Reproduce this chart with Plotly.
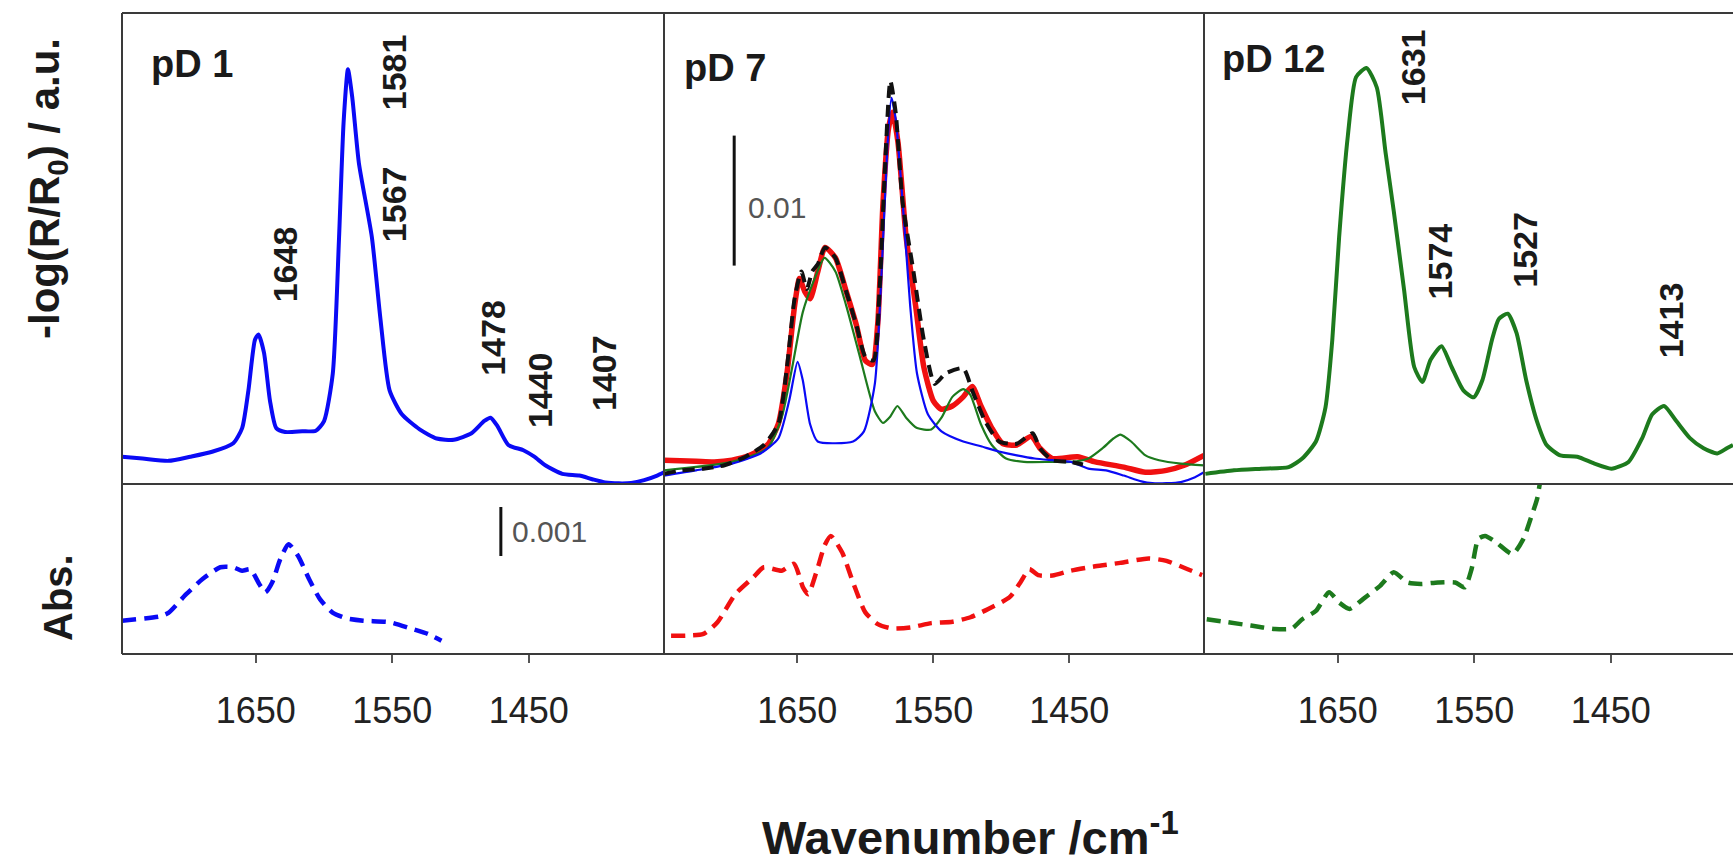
import plotly.graph_objects as go

W, H = 1733, 868

# ---------------- data (wavenumber in cm-1, signal in mAbs) ----------------
# pD 1, top: -log(R/R0)
p1_wn = [1748, 1733, 1714, 1698, 1682, 1666.5, 1660, 1655.4, 1650.6, 1648, 1644, 1639.6, 1635,
         1628.5, 1616, 1606, 1600, 1593.6, 1589, 1585.7, 1582.5, 1579.3, 1574.5, 1565, 1558.7,
         1552, 1543, 1530, 1517.5, 1505, 1492, 1482.6, 1478, 1473, 1465, 1454, 1446, 1438,
         1425.5, 1413, 1403, 1394, 1384, 1375, 1365.5, 1356, 1351]
p1_y = [2.1, 1.96, 1.78, 2.1, 2.48, 3.14, 4.3, 7.2, 11.1, 11.5, 10.1, 6.4, 4.3,
        4.0, 4.05, 4.1, 4.84, 8.5, 19.0, 27.8, 31.9, 29.7, 24.7, 19.0, 12.7,
        7.2, 5.36, 4.2, 3.5, 3.4, 3.9, 4.85, 5.1, 4.45, 3.0, 2.6, 2.1, 1.44,
        0.78, 0.65, 0.35, 0.12, 0.05, 0.08, 0.3, 0.65, 0.9]

# pD 1, bottom: Abs. (dashed)
p1b_wn = [1748, 1720, 1714, 1701, 1689, 1676, 1666.5, 1660, 1654, 1647.5, 1643, 1638, 1632,
          1626, 1619, 1611, 1603, 1594, 1584, 1571.4, 1552, 1536.5, 1524, 1514]
p1b_y = [0.68, 0.77, 0.84, 1.22, 1.53, 1.77, 1.77, 1.70, 1.73, 1.43, 1.26, 1.46, 1.94,
         2.24, 2.0, 1.53, 1.12, 0.85, 0.73, 0.68, 0.65, 0.52, 0.41, 0.27]

# pD 7, top: four spectra
p7_red_wn = [1748, 1724.4, 1711, 1698, 1685, 1672, 1664, 1657.6, 1652, 1648.4, 1644.5, 1640.6,
             1635, 1629.6, 1622, 1614, 1606.5, 1600, 1594.7, 1590.8, 1587, 1583, 1580, 1576,
             1570, 1563, 1557, 1550, 1544, 1536, 1528, 1521.4, 1515, 1507, 1499, 1488.6, 1478,
             1471.6, 1462.5, 1444, 1431, 1410, 1394, 1378.6, 1365.5, 1351]
p7_red_y = [1.83, 1.75, 1.7, 1.83, 2.2, 3.0, 4.6, 8.5, 13.7, 15.8, 14.8, 14.25,
            16.3, 18.2, 17.4, 14.8, 12.2, 9.5, 9.2, 12.4, 21.6, 27.3, 28.6, 26.3,
            19.0, 13.7, 9.0, 6.4, 5.75, 6.0, 6.7, 7.5, 6.0, 4.3, 3.1, 3.0, 3.66,
            2.75, 1.96, 2.1, 1.7, 1.3, 0.9, 1.05, 1.44, 2.2]

p7_black_wn = [1748, 1735, 1719, 1703.5, 1688, 1674.6, 1664, 1657.6, 1652, 1647, 1643, 1639,
               1635, 1629.6, 1622, 1614, 1606.5, 1600, 1594, 1589.5, 1585.6, 1581.6, 1577.7,
               1572.5, 1564.6, 1557, 1549, 1541, 1528, 1521.4, 1512, 1501.7, 1488.6, 1477,
               1471.6, 1462.5, 1449, 1440]
p7_black_y = [0.78, 1.05, 1.18, 1.44, 2.1, 3.0, 4.6, 9.0, 14.25, 16.35, 15.0, 16.35,
              16.9, 18.2, 17.4, 14.8, 12.2, 9.8, 9.5, 15.0, 24.2, 31.0, 28.6,
              21.6, 16.35, 11.1, 7.7, 8.5, 8.9, 7.2, 4.85, 3.27, 3.1, 3.9,
              2.75, 1.83, 1.7, 1.5]

p7_blue_wn = [1748, 1724.4, 1698, 1677, 1664, 1656, 1649.8, 1646, 1640.6, 1635, 1609, 1601,
              1593, 1588, 1584, 1580.8, 1577.7, 1572.5, 1567, 1562, 1554, 1544, 1528, 1515,
              1501.7, 1488.6, 1475.5, 1462.5, 1449, 1436, 1423, 1410, 1397, 1389, 1378.6,
              1368, 1357.6, 1351]
p7_blue_y = [0.65, 1.05, 1.57, 2.35, 3.5, 6.4, 9.4, 8.0, 4.6, 3.27, 3.27, 4.05,
             7.7, 16.35, 25.5, 29.7, 28.1, 21.6, 13.7, 8.5, 5.36, 4.05, 3.27, 2.9,
             2.5, 2.2, 1.96, 1.83, 1.7, 1.18, 1.05, 0.65, 0.2, 0.06, 0.06,
             0.15, 0.52, 0.9]

p7_green_wn = [1748, 1698, 1672, 1661.5, 1653.7, 1646, 1638, 1630, 1622, 1614, 1604, 1593,
               1587, 1581.6, 1576.4, 1570, 1562, 1551.5, 1544, 1536, 1528, 1523, 1515, 1507,
               1496.5, 1483.4, 1462.5, 1449, 1436, 1425.6, 1417.6, 1412.5, 1404.6, 1394,
               1384, 1368, 1351]
p7_green_y = [1.05, 1.7, 2.75, 5.1, 9.0, 13.2, 15.6, 17.4, 16.35, 13.7, 9.8, 5.6,
              4.7, 5.2, 6.0, 5.1, 4.3, 4.2, 5.1, 6.7, 7.3, 6.9, 4.6, 3.0,
              1.96, 1.7, 1.7, 1.7, 1.96, 2.75, 3.5, 3.8, 3.27, 2.2,
              1.83, 1.57, 1.44]

# pD 7, bottom: Abs. (dashed)
p7b_wn = [1742.8, 1719, 1708.7, 1695.6, 1682.5, 1674.6, 1661.5, 1652.4, 1645.8, 1642, 1635.3,
          1630, 1625.4, 1617, 1609, 1600, 1590.8, 1580.3, 1567, 1551.5, 1535.8, 1522.7,
          1509.6, 1493.9, 1486, 1479.4, 1472.9, 1462.4, 1449, 1431, 1412.6, 1391.7, 1378.6,
          1363, 1352.4]
p7b_y = [0.37, 0.41, 0.65, 1.22, 1.56, 1.77, 1.70, 1.84, 1.36, 1.22, 1.73,
         2.21, 2.41, 2.07, 1.46, 0.85, 0.61, 0.52, 0.54, 0.63, 0.66, 0.75,
         0.92, 1.16, 1.46, 1.73, 1.61, 1.6, 1.70, 1.79, 1.86, 1.95, 1.90,
         1.73, 1.61]

# pD 12, top
p12_wn = [1747, 1726, 1706, 1686, 1676, 1666, 1659, 1654, 1649, 1642.6, 1636.6, 1629, 1621.4,
          1615, 1609, 1601.5, 1594, 1588, 1582, 1574, 1566.6, 1558, 1550.4, 1544, 1537, 1532,
          1525.5, 1519, 1512, 1504, 1497, 1487, 1474.5, 1462, 1449.5, 1437, 1427, 1419.6,
          1411, 1402, 1392, 1382, 1372, 1365, 1360.5]
p12_y = [0.78, 1.05, 1.18, 1.3, 1.96, 3.27, 5.9, 11.1, 19.0, 26.8, 31.3, 32.0, 30.5,
         25.5, 21.0, 15.0, 9.0, 7.85, 9.55, 10.6, 9.0, 7.2, 6.67, 8.0, 11.1, 12.7,
         13.1, 11.6, 8.0, 4.8, 3.0, 2.2, 2.1, 1.57, 1.18, 1.7, 3.53, 5.36,
         6.0, 4.84, 3.53, 2.75, 2.35, 2.75, 3.0]

# pD 12, bottom: Abs. (dashed), runs off the top of the panel
p12b_wn = [1746, 1731, 1713.6, 1696, 1683.7, 1676, 1666, 1656.4, 1649, 1641.3, 1631.5, 1619,
           1609, 1599, 1589, 1576.6, 1564, 1557, 1552, 1547, 1542, 1534, 1522, 1514, 1508,
           1504, 1502, 1498]
p12b_y = [0.71, 0.65, 0.58, 0.51, 0.52, 0.71, 0.88, 1.26, 1.05, 0.92, 1.12, 1.39,
          1.67, 1.46, 1.43, 1.46, 1.46, 1.36, 1.73, 2.35, 2.41, 2.28, 2.04, 2.35, 2.82,
          3.16, 3.47, 4.0]

# scale bars: (wavenumber, y from, y to) and labels
bar_top_wn, bar_top_y = [1696.4, 1696.4], [16.8, 26.8]       # 0.01
bar_bot_wn, bar_bot_y = [1470.5, 1470.5], [2.0, 3.0]         # 0.001

# peak labels
p1_peaks = ["1648", "1581", "1567", "1478", "1440", "1407"]
p1_peak_x = [1628.6, 1549, 1549, 1476.2, 1441.3, 1395.3]
p1_peak_y = [16.9, 31.65, 21.5, 11.25, 7.2, 8.5]
p12_peaks = ["1631", "1574", "1527", "1413"]
p12_peak_x = [1595.3, 1575.3, 1513, 1405.8]
p12_peak_y = [32.1, 17.1, 18.0, 12.6]

tick_vals = [1650, 1550, 1450]
tick_text = ["1650", "1550", "1450"]

# ---------------- layout geometry (pixels) ----------------
X_L, X_D1, X_D2, X_R = 122, 664, 1204, 1733
Y_T, Y_M, Y_B = 13, 484, 654
TOP_RANGE = [0, (Y_M - Y_T) / 13.0]
BOT_RANGE = [0, (Y_B - Y_M) / 49.0]
XR = [1748, 1351]
XR3 = [1748, 1748 - (X_R - X_D2) / 1.365]

px = lambda x: x / W
py = lambda y: 1 - y / H

FONT = "Liberation Sans, Arial, sans-serif"
BLUE = "#0a0af5"
RED = "#f01010"
GREEN = "#1d7a1d"
BLACK = "#111111"

fig = go.Figure()

def add(x, y, xa, ya, color, width, dash="solid"):
    fig.add_trace(go.Scatter(x=x, y=y, xaxis=xa, yaxis=ya, mode="lines",
                             line=dict(color=color, width=width, dash=dash, shape="spline", smoothing=0.6),
                             hoverinfo="skip", showlegend=False))

add(p1_wn, p1_y, "x", "y", BLUE, 4)
add(p1b_wn, p1b_y, "x2", "y2", BLUE, 4.5, "14px,8px")
add(p7_red_wn, p7_red_y, "x3", "y3", RED, 5.5)
add(p7_green_wn, p7_green_y, "x3", "y3", GREEN, 2.2)
add(p7_blue_wn, p7_blue_y, "x3", "y3", BLUE, 2.2)
add(p7_black_wn, p7_black_y, "x3", "y3", BLACK, 4, "12px,7px")
add(p7b_wn, p7b_y, "x4", "y4", RED, 4.5, "14px,8px")
add(p12_wn, p12_y, "x5", "y5", GREEN, 4)
add(p12b_wn, p12b_y, "x6", "y6", GREEN, 4.5, "14px,8px")

# scale bars
fig.add_trace(go.Scatter(x=bar_top_wn, y=bar_top_y, xaxis="x3", yaxis="y3", mode="lines",
                         line=dict(color="#111", width=3), hoverinfo="skip", showlegend=False))
fig.add_trace(go.Scatter(x=bar_bot_wn, y=bar_bot_y, xaxis="x2", yaxis="y2", mode="lines",
                         line=dict(color="#111", width=3), hoverinfo="skip", showlegend=False))

def xax(d0, d1, rng, anchor, ticks):
    a = dict(domain=[px(d0), px(d1)], range=rng, anchor=anchor, showgrid=False, zeroline=False,
             showline=False, fixedrange=True)
    if ticks:
        a.update(tickmode="array", tickvals=tick_vals, ticktext=tick_text, ticks="outside",
                 ticklen=8, tickwidth=2, tickcolor="#555",
                 tickfont=dict(family=FONT, size=36, color="#222"), ticklabelstandoff=17)
    else:
        a.update(showticklabels=False, ticks="")
    return a

def yax(top, rng, anchor):
    d = [py(Y_M), py(Y_T)] if top else [py(Y_B), py(Y_M)]
    return dict(domain=d, range=rng, anchor=anchor, showgrid=False, zeroline=False,
                showline=False, showticklabels=False, ticks="", fixedrange=True)

layout = dict(
    width=W, height=H, margin=dict(l=0, r=0, t=0, b=0),
    paper_bgcolor="white", plot_bgcolor="white",
    xaxis=xax(X_L, X_D1, XR, "y", False), yaxis=yax(True, TOP_RANGE, "x"),
    xaxis2=xax(X_L, X_D1, XR, "y2", True), yaxis2=yax(False, BOT_RANGE, "x2"),
    xaxis3=xax(X_D1, X_D2, XR, "y3", False), yaxis3=yax(True, TOP_RANGE, "x3"),
    xaxis4=xax(X_D1, X_D2, XR, "y4", True), yaxis4=yax(False, BOT_RANGE, "x4"),
    xaxis5=xax(X_D2, X_R, XR3, "y5", False), yaxis5=yax(True, TOP_RANGE, "x5"),
    xaxis6=xax(X_D2, X_R, XR3, "y6", True), yaxis6=yax(False, BOT_RANGE, "x6"),
)
fig.update_layout(**layout)

# frame lines
LC = "#3a3a3a"
shapes = []
for yy in (Y_T, Y_M, Y_B):
    shapes.append(dict(type="line", xref="paper", yref="paper", x0=px(X_L), x1=px(X_R) + 0.01,
                       y0=py(yy), y1=py(yy), line=dict(color=LC, width=2)))
for xx in (X_L, X_D1, X_D2):
    shapes.append(dict(type="line", xref="paper", yref="paper", x0=px(xx), x1=px(xx),
                       y0=py(Y_T), y1=py(Y_B), line=dict(color=LC, width=2)))
fig.update_layout(shapes=shapes)

ann = []
def label(text, x, y, xref, yref, size, bold=True, angle=0, xanchor="center", yanchor="middle", color="#1a1a1a"):
    ann.append(dict(text=f"<b>{text}</b>" if bold else text, x=x, y=y, xref=xref, yref=yref,
                    showarrow=False, textangle=angle, xanchor=xanchor, yanchor=yanchor,
                    font=dict(family=FONT, size=size, color=color)))

for t, x, y in zip(p1_peaks, p1_peak_x, p1_peak_y):
    label(t, x, y, "x", "y", 34, angle=-90)
for t, x, y in zip(p12_peaks, p12_peak_x, p12_peak_y):
    label(t, x, y, "x5", "y5", 34, angle=-90)

label("pD 1", 1728.2, 32.3, "x", "y", 38, xanchor="left")
label("pD 7", 1735, 32.0, "x3", "y3", 38, xanchor="left")
label("pD 12", 1736, 32.7, "x5", "y5", 38, xanchor="left")
label("0.01", 1688, 21.3, "x3", "y3", 30, bold=False, xanchor="left", color="#555")
label("0.001", 1464, 2.5, "x2", "y2", 30, bold=False, xanchor="left", color="#555")

label("-log(R/R<sub>0</sub>) / a.u.", px(47), py(189), "paper", "paper", 42, angle=-90)
label("Abs.", px(58), py(598), "paper", "paper", 40, angle=-90)
label("Wavenumber /cm<sup>-1</sup>", px(970), py(834), "paper", "paper", 47)

fig.update_layout(annotations=ann)

fig.write_html("out.html")
